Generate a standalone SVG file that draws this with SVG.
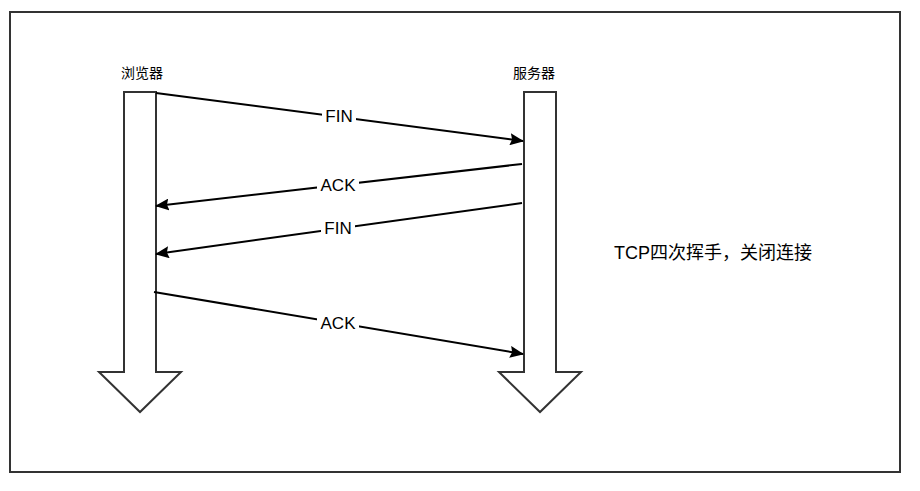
<svg xmlns="http://www.w3.org/2000/svg" width="920" height="491" viewBox="0 0 920 491">
  <style>
    .frame { fill: #ffffff; stroke: #333333; stroke-width: 2; }
    .life { fill: #ffffff; stroke: #333333; stroke-width: 2; stroke-linejoin: miter; }
    .msg { fill: none; stroke: #000000; stroke-width: 2; }
    .lbl-bg { fill: #ffffff; }
    .lbl { font-family: "Liberation Sans", Arial, sans-serif; font-size: 17px; fill: #000000; text-anchor: middle; }
    .actor { font-family: "Liberation Sans", "Noto Sans CJK SC", sans-serif; font-size: 14px; fill: #000000; text-anchor: middle; }
    .note { font-family: "Liberation Sans", "Noto Sans CJK SC", sans-serif; font-size: 18px; fill: #000000; }
  </style>
  <defs>
    <marker id="arrow" viewBox="0 0 14 12" refX="13" refY="6" markerWidth="14" markerHeight="12" markerUnits="userSpaceOnUse" orient="auto">
      <path d="M0,0 L14,6 L0,12 L2,6 Z" fill="#000000"/>
    </marker>
  </defs>

  <rect width="920" height="491" fill="#ffffff"/>
  <rect class="frame" x="10" y="12" width="890" height="460"/>

  <!-- browser lifeline -->
  <g id="browser">
    <path class="life" d="M124,92 H156 V372 H181 L140,412 L99,372 H124 Z"/>
    <text class="actor" x="142" y="78">浏览器</text>
  </g>

  <!-- server lifeline -->
  <g id="server">
    <path class="life" d="M524,92 H556 V372 H581 L540,412 L499,372 H524 Z"/>
    <text class="actor" x="534" y="78">服务器</text>
  </g>

  <!-- note -->
  <g id="note">
    <text class="note" x="614" y="259">TCP四次挥手，关闭连接</text>
  </g>

  <!-- messages -->
  <g id="connectors">
    <line class="msg" x1="156" y1="93" x2="523" y2="141" marker-end="url(#arrow)"/>
    <rect class="lbl-bg" x="322" y="106" width="34" height="20"/>
    <text class="lbl" x="339" y="122">FIN</text>

    <line class="msg" x1="522" y1="164" x2="156" y2="206" marker-end="url(#arrow)"/>
    <rect class="lbl-bg" x="317" y="175" width="42" height="20"/>
    <text class="lbl" x="338" y="191">ACK</text>

    <line class="msg" x1="522" y1="203" x2="156" y2="254" marker-end="url(#arrow)"/>
    <rect class="lbl-bg" x="321" y="218" width="34" height="20"/>
    <text class="lbl" x="338" y="234">FIN</text>

    <line class="msg" x1="154" y1="292" x2="523" y2="354" marker-end="url(#arrow)"/>
    <rect class="lbl-bg" x="317" y="313" width="42" height="20"/>
    <text class="lbl" x="338" y="329">ACK</text>
  </g>
</svg>
